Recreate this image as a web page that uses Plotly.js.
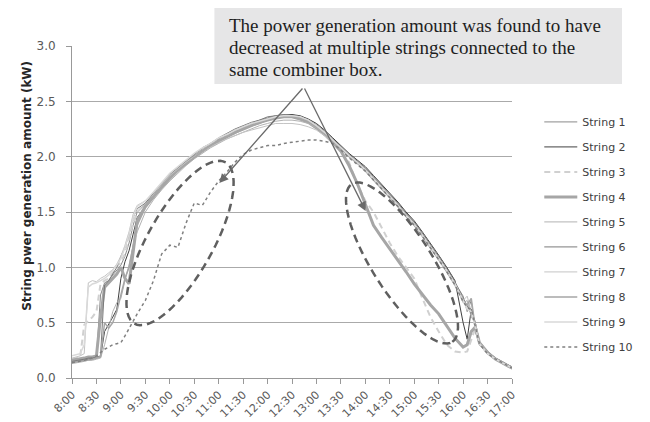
<!DOCTYPE html>
<html>
<head>
<meta charset="utf-8">
<script src="https://cdn.plot.ly/plotly-3.0.1.min.js"></script>
<style>html,body{margin:0;padding:0;background:#fff;}#chart{width:650px;height:422px;}</style>
</head>
<body>
<div id="chart"></div>
<script>
// Sample times (H:MM)
const times = ["8:00","8:10","8:15","8:20","8:25","8:30","8:35","8:40","8:45","8:50","8:55","9:00","9:05","9:10","9:15","9:20",
"9:30","9:40","9:50","10:00","10:10","10:20","10:30","10:40","10:50","11:00","11:10","11:20","11:30","11:40","11:50",
"12:00","12:10","12:20","12:30","12:40","12:50","13:00","13:10","13:20","13:30","13:40","13:50","14:00","14:10","14:20",
"14:30","14:40","14:50","15:00","15:10","15:20","15:30","15:40","15:50","16:00","16:05","16:10","16:15","16:20","16:30",
"16:40","16:50","17:00"];

const string1 = [0.15,0.16,0.17,0.17,0.18,0.19,0.75,0.86,0.88,0.93,0.97,1.02,1.1,1.22,1.38,1.5,
1.57,1.66,1.75,1.83,1.9,1.96,2.02,2.07,2.12,2.16,2.2,2.24,2.27,2.3,2.33,2.35,2.37,2.38,2.38,2.36,2.33,2.28,2.22,2.15,2.08,2.01,1.95,1.89,1.81,1.73,1.65,1.57,1.48,1.4,1.3,1.2,1.09,0.98,0.86,
0.74,0.6,0.7,0.42,0.3,0.22,0.17,0.13,0.09];
const string2 = [0.14,0.15,0.16,0.17,0.17,0.18,0.19,0.42,0.48,0.55,0.62,0.9,1.05,1.15,1.3,1.45,
1.55,1.64,1.73,1.81,1.88,1.95,2.0,2.06,2.1,2.15,2.19,2.22,2.26,2.29,2.32,2.34,2.36,2.37,2.38,2.37,2.34,2.3,2.24,2.17,2.1,2.03,1.97,1.91,1.83,1.75,1.67,1.59,1.5,1.42,1.32,1.22,1.11,1.0,0.88,
0.5,0.35,0.62,0.5,0.33,0.24,0.18,0.14,0.1];
const string3 = [0.17,0.19,0.48,0.52,0.55,0.6,0.85,0.88,0.9,0.95,1.0,1.05,1.12,1.25,1.4,1.5,
1.57,1.66,1.74,1.82,1.89,1.95,2.01,2.06,2.11,2.15,2.19,2.22,2.25,2.28,2.31,2.33,2.35,2.36,2.36,2.34,2.31,2.26,2.2,2.13,2.05,
1.95,1.75,1.6,1.5,1.36,1.22,1.1,1.0,0.9,0.72,0.55,0.42,0.3,0.24,
0.23,0.24,0.35,0.45,0.32,0.22,0.17,0.13,0.09];
const string4 = [0.16,0.17,0.18,0.19,0.19,0.2,0.55,0.82,0.86,0.9,0.94,1.0,0.9,0.85,1.15,1.42,
1.55,1.64,1.73,1.81,1.88,1.94,2.0,2.05,2.1,2.14,2.18,2.22,2.25,2.28,2.31,2.33,2.35,2.36,2.36,2.34,2.31,2.26,2.2,2.13,2.05,
1.92,1.76,1.57,1.38,1.27,1.17,1.07,0.96,0.85,0.75,0.66,0.58,0.47,0.36,
0.28,0.3,0.42,0.46,0.32,0.23,0.17,0.13,0.09];
const string5 = [0.13,0.14,0.15,0.16,0.16,0.17,0.18,0.3,0.45,0.6,0.68,0.72,0.88,1.02,1.2,1.32,
1.5,1.61,1.7,1.78,1.85,1.92,1.98,2.03,2.08,2.12,2.16,2.19,2.22,2.25,2.28,2.3,2.32,2.33,2.33,2.32,2.3,2.26,2.21,2.15,2.08,2.01,1.95,1.89,1.81,1.73,1.65,1.57,1.49,1.4,1.31,1.2,1.1,0.98,0.86,
0.68,0.7,0.55,0.5,0.31,0.22,0.17,0.12,0.08];
const string6 = [0.15,0.16,0.17,0.18,0.18,0.19,0.2,0.84,0.88,0.94,1.0,1.1,1.18,1.3,1.45,1.53,
1.58,1.67,1.76,1.84,1.9,1.96,2.02,2.08,2.12,2.17,2.21,2.25,2.28,2.31,2.33,2.36,2.37,2.38,2.37,2.36,2.33,2.29,2.23,2.16,2.09,2.02,1.96,1.9,1.82,1.74,1.66,1.58,1.49,1.41,1.31,1.21,1.1,0.99,0.87,
0.72,0.65,0.58,0.48,0.31,0.23,0.17,0.13,0.09];
const string7 = [0.18,0.2,0.22,0.86,0.88,0.87,0.9,0.92,0.95,0.98,1.03,1.1,1.2,1.32,1.48,1.56,
1.6,1.68,1.76,1.83,1.89,1.95,2.0,2.05,2.09,2.13,2.16,2.19,2.22,2.24,2.26,2.28,2.3,2.3,2.3,2.29,2.27,2.24,2.19,2.13,2.07,2.0,1.94,1.88,1.8,1.72,1.64,1.56,1.47,1.39,1.29,1.19,1.08,0.97,0.85,
0.7,0.74,0.6,0.5,0.32,0.23,0.17,0.13,0.09];
const string8 = [0.14,0.15,0.16,0.16,0.17,0.18,0.19,0.5,0.45,0.5,0.6,0.75,0.9,1.0,1.2,1.38,
1.54,1.64,1.72,1.8,1.87,1.93,1.99,2.05,2.1,2.14,2.18,2.21,2.25,2.28,2.3,2.33,2.35,2.36,2.36,2.35,2.32,2.27,2.21,2.14,2.07,2.0,1.94,1.87,1.79,1.71,1.63,1.55,1.46,1.38,1.28,1.18,1.07,0.96,0.84,
0.7,0.66,0.72,0.45,0.31,0.22,0.17,0.13,0.09];
const string9 = [0.2,0.22,0.3,0.82,0.85,0.86,0.88,0.9,0.93,0.97,1.02,1.08,1.18,1.3,1.45,1.55,
1.6,1.68,1.77,1.85,1.91,1.97,2.03,2.08,2.12,2.17,2.2,2.24,2.27,2.3,2.32,2.34,2.36,2.37,2.37,2.36,2.33,2.28,2.22,2.15,2.08,2.01,1.95,1.88,1.8,1.72,1.64,1.56,1.47,1.39,1.29,1.19,1.08,0.97,0.85,
0.7,0.62,0.6,0.46,0.31,0.22,0.17,0.13,0.09];
const string10 = [0.14,0.15,0.16,0.17,0.18,0.2,0.23,0.26,0.28,0.3,0.31,0.32,0.38,0.45,0.52,0.58,
0.7,0.88,1.12,1.2,1.18,1.4,1.58,1.56,1.68,1.78,1.86,1.95,2.02,2.06,2.08,2.1,2.1,2.12,2.13,2.14,2.15,2.15,2.14,2.12,2.06,
1.99,1.93,1.87,1.79,1.71,1.63,1.55,1.46,1.38,1.28,1.18,1.07,0.96,0.84,
0.69,0.64,0.62,0.46,0.31,0.22,0.17,0.13,0.09];

const seriesNames = ["String 1","String 2","String 3","String 4","String 5","String 6","String 7","String 8","String 9","String 10"];
const tickLabels = ["8:00","8:30","9:00","9:30","10:00","10:30","11:00","11:30","12:00","12:30","13:00","13:30","14:00","14:30","15:00","15:30","16:00","16:30","17:00"];
const noteLines = ["The power generation amount was found to have",
                   "decreased at multiple strings connected to the",
                   "same combiner box."];

const toMin = s => { const p = s.split(':').map(Number); return (p[0]-8)*60 + p[1]; };
const xs = times.map(toMin);
const allSeries = [string1,string2,string3,string4,string5,string6,string7,string8,string9,string10];
const styles = [
  {color:'#8a8a8a', width:1},
  {color:'#404040', width:1},
  {color:'#d0d0d0', width:2, dash:'6px,4px'},
  {color:'#a6a6a6', width:3},
  {color:'#b2b2b2', width:1},
  {color:'#7a7a7a', width:1},
  {color:'#c4c4c4', width:1},
  {color:'#a6a6a6', width:1.5},
  {color:'#d9d9d9', width:1.5},
  {color:'#808080', width:1.5, dash:'dot'}
];
const traces = allSeries.map((v,i)=>({
  type:'scatter', mode:'lines', x:xs, y:v, name:seriesNames[i],
  legendgroup:'g'+i, line:styles[i], hoverinfo:'skip'
}));

// plot geometry (pixels) used to place free-form annotation shapes
const L=72, R=520, T=46, B=378, W=R-L, H=B-T;
const toPaper = (px,py)=>[(px-L)/W, (B-py)/H];
function ellipsePath(cx,cy,a,b,angDeg){
  const th = angDeg*Math.PI/180; let d='';
  for(let k=0;k<=72;k++){
    const t = k/72*2*Math.PI;
    const ex = a*Math.cos(t), ey = b*Math.sin(t);
    const px = cx + ex*Math.cos(th) - ey*Math.sin(th);
    const py = cy - (ex*Math.sin(th) + ey*Math.cos(th));
    const p = toPaper(px,py);
    d += (k===0?'M':'L') + p[0].toFixed(4)+','+p[1].toFixed(4)+' ';
  }
  return d+'Z';
}
const boxA = toPaper(217,84), boxB = toPaper(632,8);
const apex = toPaper(308,87), headL = toPaper(222,183), headR = toPaper(371,211);
const lineY = [26, 48, 69];

const annotations = [
  {xref:'paper', yref:'paper', x:toPaper(26,0)[0], y:toPaper(0,186)[1], xanchor:'center', yanchor:'middle',
   text:'String pwer generation amount (kW)',
   textangle:-90, showarrow:false, font:{family:'DejaVu Sans, Verdana, sans-serif', size:12, color:'#262626', weight:'bold'}},
  {xref:'paper', yref:'paper', axref:'paper', ayref:'paper', x:headL[0], y:headL[1], ax:apex[0], ay:apex[1],
   text:'', showarrow:true, arrowhead:2, arrowsize:1.4, arrowwidth:1.3, arrowcolor:'#6a6a6a'},
  {xref:'paper', yref:'paper', axref:'paper', ayref:'paper', x:headR[0], y:headR[1], ax:apex[0], ay:apex[1],
   text:'', showarrow:true, arrowhead:2, arrowsize:1.4, arrowwidth:1.3, arrowcolor:'#6a6a6a'}
];
noteLines.forEach((s,i)=>annotations.push({
  xref:'paper', yref:'paper', x:toPaper(231,0)[0], y:toPaper(0,lineY[i])[1], xanchor:'left', yanchor:'middle',
  align:'left', showarrow:false, text:s, borderpad:0,
  font:{family:'Liberation Serif, Times New Roman, serif', size:19, color:'#1e1e1e'}
}));

const layout = {
  width:650, height:422,
  margin:{l:L, r:650-R, t:T, b:422-B, pad:0},
  paper_bgcolor:'#ffffff', plot_bgcolor:'#ffffff',
  font:{family:'DejaVu Sans, Verdana, sans-serif', size:11, color:'#595959'},
  showlegend:true,
  legend:{x:1.062, xanchor:'left', y:0.815, yanchor:'top', font:{size:11, color:'#404040'},
          bgcolor:'rgba(0,0,0,0)', tracegroupgap:6, itemwidth:33},
  xaxis:{range:[0,540], tickvals:tickLabels.map(toMin), ticktext:tickLabels, tickangle:-45,
         ticks:'outside', ticklen:5, tickcolor:'#999', showline:true, linecolor:'#999', linewidth:1,
         showgrid:false, zeroline:false, tickfont:{size:11, color:'#595959'}, fixedrange:true},
  yaxis:{range:[0,3], dtick:0.5, tickformat:'.1f', ticks:'outside', ticklen:5, tickcolor:'#999',
         ticklabelstandoff:8,
         showline:true, linecolor:'#999', linewidth:1, showgrid:true, gridcolor:'#aaaaaa', gridwidth:1,
         zeroline:false, tickfont:{size:12, color:'#595959'}, fixedrange:true},
  shapes:[
    {type:'rect', xref:'paper', yref:'paper', x0:boxA[0], y0:boxA[1], x1:boxB[0], y1:boxB[1],
     fillcolor:'#e6e6e7', line:{width:0}, layer:'above'},
    {type:'path', xref:'paper', yref:'paper', path:ellipsePath(182,243,93,33,60),
     line:{color:'#5f5f5f', width:2.5, dash:'8px,5px'}},
    {type:'path', xref:'paper', yref:'paper', path:ellipsePath(408,263,94,30,-57),
     line:{color:'#5f5f5f', width:2.5, dash:'8px,5px'}}
  ],
  annotations:annotations
};
Plotly.newPlot('chart', traces, layout, {displayModeBar:false, staticPlot:true});
</script>
</body>
</html>
